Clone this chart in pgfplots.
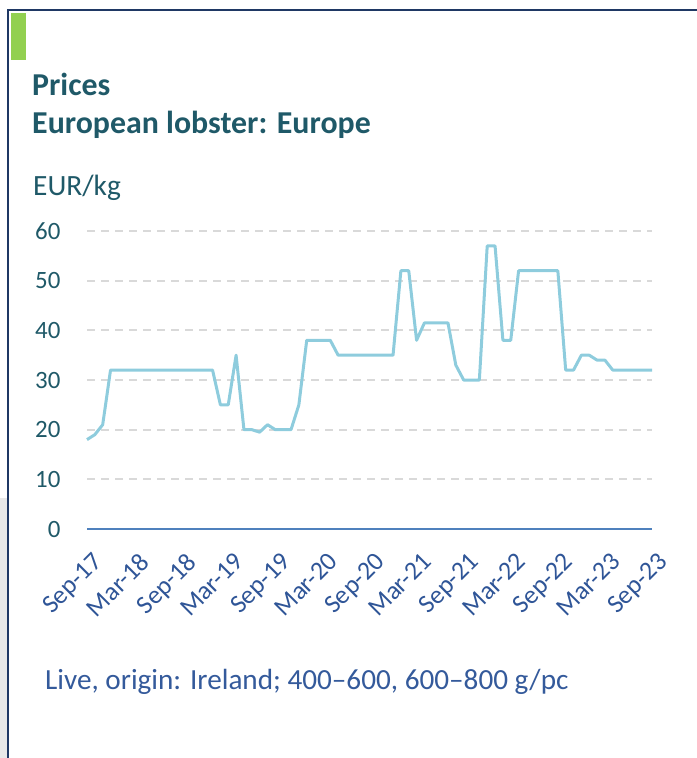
\documentclass[border=0pt]{standalone}
\usepackage{pgfplots}
\pgfplotsset{compat=1.18}
\usepackage{fontspec}
\setmainfont{Carlito}
\definecolor{titlec}{RGB}{31,89,104}
\definecolor{xlabc}{RGB}{47,85,151}
\definecolor{notec}{RGB}{52,90,155}
\definecolor{linec}{RGB}{142,204,221}
\definecolor{zeroc}{RGB}{79,129,189}
\definecolor{gridc}{RGB}{217,217,217}
\definecolor{framec}{RGB}{31,56,100}
\definecolor{greenc}{RGB}{146,208,80}
\definecolor{greyc}{RGB}{232,232,232}
\begin{document}
\begin{tikzpicture}
\path[use as bounding box] (0bp,0bp) rectangle (697bp,-758bp);
\fill[greyc] (0bp,-498bp) rectangle (8bp,-758bp);
\draw[framec, line width=2bp] (8bp,-758bp) -- (8bp,-10bp) -- (697bp,-10bp);
\fill[greenc] (11bp,-13bp) rectangle (26bp,-60bp);
\node[anchor=base west, inner sep=0pt, text=titlec, font=\bfseries\fontsize{32}{36}\selectfont] at (32bp,-95bp) {Prices};
\node[anchor=base west, inner sep=0pt, text=titlec, font=\bfseries\fontsize{32}{36}\selectfont] at (32bp,-133bp) {European lobster: Europe};
\node[anchor=base west, inner sep=0pt, text=titlec, font=\fontsize{29.5}{34}\selectfont] at (33bp,-195bp) {EUR/kg};
\node[anchor=base west, inner sep=0pt, text=notec, font=\fontsize{29.3}{34}\selectfont] at (45bp,-689bp) {Live, origin: Ireland; 400–600, 600–800 g/pc};
\begin{axis}[
  at={(87bp,-529bp)}, anchor=south west,
  scale only axis, width=565bp, height=298bp,
  xmin=0, xmax=72, ymin=0, ymax=60,
  axis line style={draw=none},
  major tick length=0pt,
  ytick={0,10,...,60},
  ymajorgrids,
  grid style={gridc, line width=1.8bp, dash pattern=on 8bp off 6bp},
  xtick={0,6,...,72},
  xticklabels={Sep-17,Mar-18,Sep-18,Mar-19,Sep-19,Mar-20,Sep-20,Mar-21,Sep-21,Mar-22,Sep-22,Mar-23,Sep-23},
  /pgf/number format/assume math mode=true,
  yticklabel style={text=titlec, font=\fontsize{25}{29}\selectfont, anchor=east, xshift=-23bp},
  xticklabel style={text=xlabc, font=\fontsize{26}{30}\selectfont, inner sep=0pt, anchor=north east, xshift=4.5bp, yshift=-22bp, rotate=45},
  clip=false,
]
\addplot[linec, line width=3bp, line join=round] coordinates {
(0,18)(1,19)(2,21)(3,32)(4,32)(5,32)(6,32)(7,32)(8,32)(9,32)(10,32)(11,32)(12,32)(13,32)(14,32)(15,32)(16,32)
(17,25)(18,25)(19,35)(20,20)(21,20)(22,19.5)(23,21)(24,20)(25,20)(26,20)(27,25)(28,38)(29,38)(30,38)(31,38)
(32,35)(33,35)(34,35)(35,35)(36,35)(37,35)(38,35)(39,35)(40,52)(41,52)(42,38)(43,41.5)(44,41.5)(45,41.5)(46,41.5)
(47,33)(48,30)(49,30)(50,30)(51,57)(52,57)(53,38)(54,38)(55,52)(56,52)(57,52)(58,52)(59,52)(60,52)
(61,32)(62,32)(63,35)(64,35)(65,34)(66,34)(67,32)(68,32)(69,32)(70,32)(71,32)(72,32)
};
\draw[zeroc, line width=1.8bp] (axis cs:0,0) -- (axis cs:72,0);
\end{axis}
\end{tikzpicture}
\end{document}
